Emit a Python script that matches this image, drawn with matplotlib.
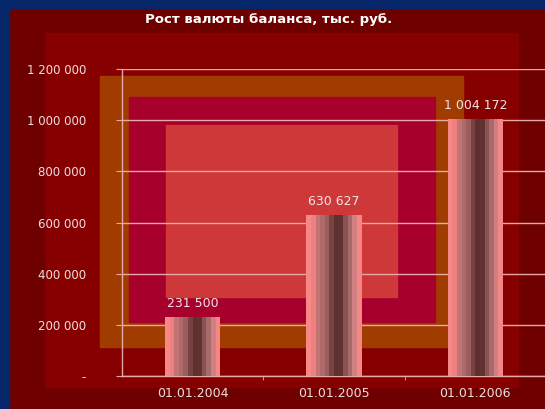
import matplotlib
matplotlib.use("Agg")
import matplotlib.pyplot as plt
from matplotlib.patches import Rectangle
from matplotlib.ticker import FuncFormatter

dates = ["01.01.2004", "01.01.2005", "01.01.2006"]
values = [231500, 630627, 1004172]
labels = ["231 500", "630 627", "1 004 172"]

W, H = 545, 409
fig = plt.figure(figsize=(W / 100, H / 100), dpi=100)
fig.patch.set_facecolor("#6e0000")


def px_rect(x0, y0, x1, y1, color):
    # rectangle given in image pixels (top-left origin)
    fig.patches.append(Rectangle((x0 / W, 1 - y1 / H), (x1 - x0) / W, (y1 - y0) / H,
                                 transform=fig.transFigure, color=color, zorder=-5))


# navy slide border, then the nested background frames
px_rect(0, 0, W, 8, "#06276a")
px_rect(0, 0, 9, H, "#06276a")
px_rect(45, 33, 518, 387, "#860000")
px_rect(100, 76, 463, 347, "#a03c00")
px_rect(129, 97, 435, 322, "#a8002c")
px_rect(166, 125, 397, 297, "#cf3838")

ax = fig.add_axes([122 / W, 1 - 376 / H, 424 / W, 307 / H])
ax.set_facecolor("none")

# striped "cylinder" look of the bars
stripes = ["#f88888", "#ee8080", "#c27474", "#b06a6a", "#9a5e5e", "#784242",
           "#5e3030", "#603232", "#8a5252", "#a86a6a", "#d08080", "#f48686"]
bw = 0.39
sw = bw / len(stripes)
xs = range(len(values))
for i, c in enumerate(stripes):
    ax.bar([x - bw / 2 + i * sw for x in xs], values, width=sw * 1.02, align="edge",
           color=c, linewidth=0, zorder=3)

for x, v, t in zip(xs, values, labels):
    ax.text(x, v + 26000, t, ha="center", va="bottom", color="#f4e4e4", fontsize=9, zorder=4)

ax.set_xlim(-0.5, 2.5)
ax.set_ylim(0, 1200000)
ax.set_yticks(range(0, 1200001, 200000))
ax.yaxis.set_major_formatter(FuncFormatter(
    lambda v, p: "-" if v == 0 else f"{int(v):,}".replace(",", " ")))
ax.set_xticks(list(xs))
ax.set_xticklabels(dates)
ax.set_xticks([0.5, 1.5], minor=True)

line_c = "#e8a8a8"
ax.grid(axis="y", color=line_c, linewidth=1, zorder=1)
ax.set_axisbelow(True)
for s in ["top", "right"]:
    ax.spines[s].set_visible(False)
for s in ["left", "bottom"]:
    ax.spines[s].set_color(line_c)
    ax.spines[s].set_linewidth(1)

ax.tick_params(axis="y", colors=line_c, labelcolor="#f0dede", labelsize=8.5,
               length=4, pad=22)
ax.tick_params(axis="x", which="major", length=0, labelcolor="#f0dede", labelsize=9, pad=8)
ax.tick_params(axis="x", which="minor", length=3, color=line_c)

fig.text(269 / W, 1 - 20 / H, "Рост валюты баланса, тыс. руб.", ha="center", va="center",
         color="white", fontsize=9.5, fontweight="bold")

fig.savefig("out.png", dpi=100, facecolor=fig.get_facecolor())
